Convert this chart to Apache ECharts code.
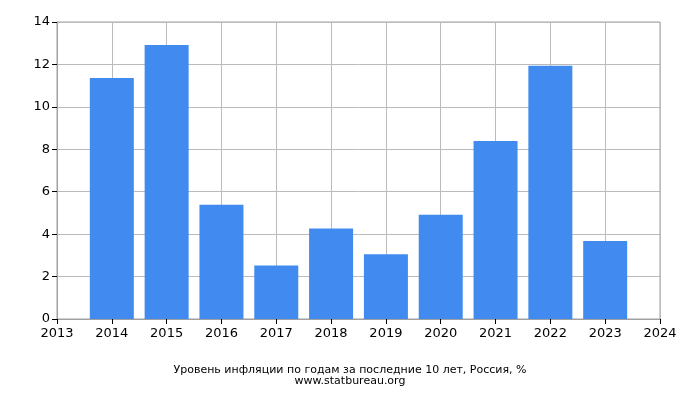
<!DOCTYPE html>
<html><head><meta charset="utf-8">
<script src="https://cdn.jsdelivr.net/npm/echarts@6/dist/echarts.min.js"></script>
<style>html,body{margin:0;padding:0;background:#fff}#c{width:700px;height:400px}</style>
</head><body><div id="c"></div>
<script>
const years = [2014, 2015, 2016, 2017, 2018, 2019, 2020, 2021, 2022, 2023];
const inflation = [11.36, 12.91, 5.38, 2.52, 4.27, 3.05, 4.91, 8.39, 11.94, 3.68];
const titleLine1 = 'Уровень инфляции по годам за последние 10 лет, Россия, %';
const titleLine2 = 'www.statbureau.org';

const chart = echarts.init(document.getElementById('c'), null, {renderer: 'canvas'});
chart.setOption({
  animation: false,
  textStyle: {fontFamily: 'DejaVu Sans'},
  title: {
    text: titleLine1 + '\n' + titleLine2,
    left: 'center', top: 360,
    textStyle: {fontSize: 11, fontWeight: 'normal', color: '#000', lineHeight: 11, fontFamily: 'DejaVu Sans'}
  },
  grid: {left: 57, right: 40, top: 22, bottom: 81, show: true, borderColor: '#a0a0a0', borderWidth: 1},
  xAxis: {
    type: 'value', min: 2013, max: 2024, interval: 1,
    axisLine: {show: true, lineStyle: {color: '#a0a0a0'}},
    axisTick: {show: true, length: 5, lineStyle: {color: '#000'}},
    axisLabel: {color: '#000', fontSize: 13, margin: 8, formatter: v => String(v)},
    splitLine: {show: true, lineStyle: {color: '#bbbbbb'}}
  },
  yAxis: {
    type: 'value', min: 0, max: 14, interval: 2,
    axisLine: {show: true, lineStyle: {color: '#a0a0a0'}},
    axisTick: {show: true, length: 5, lineStyle: {color: '#000'}},
    axisLabel: {color: '#000', fontSize: 13, margin: 7},
    splitLine: {show: true, lineStyle: {color: '#bbbbbb'}}
  },
  series: [{
    type: 'bar',
    data: years.map((y, i) => [y, inflation[i]]),
    barWidth: 44,
    itemStyle: {color: '#418bf0'}
  }]
});
</script></body></html>
